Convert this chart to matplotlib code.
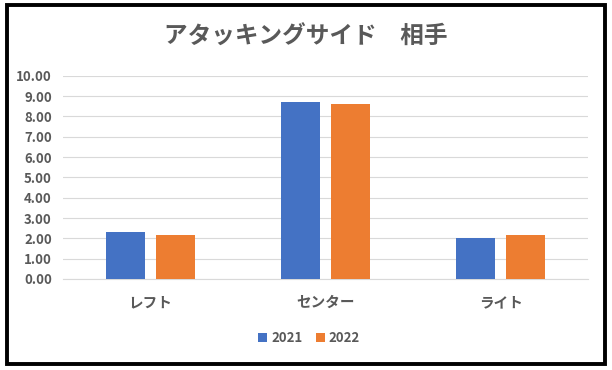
import matplotlib
matplotlib.use("Agg")
import matplotlib.pyplot as plt
import numpy as np
from matplotlib.patches import Rectangle

plt.rcParams['font.family'] = ['Noto Sans CJK JP', 'DejaVu Sans']

categories = ['レフト', 'センター', 'ライト']
years = ['2021', '2022']
values_2021 = [2.32, 8.72, 2.02]
values_2022 = [2.17, 8.62, 2.17]
colors = ['#4472C4', '#ED7D31']
text_color = '#595959'

fig = plt.figure(figsize=(6.12, 3.70), dpi=100)
ax = fig.add_axes([0.103, 0.246, 0.858, 0.549])

x = np.arange(len(categories))
w = 0.223
ax.bar(x - 0.143, values_2021, width=w, color=colors[0], label=years[0], zorder=3)
ax.bar(x + 0.143, values_2022, width=w, color=colors[1], label=years[1], zorder=3)

ax.set_xlim(-0.5, len(categories) - 0.5)
ax.set_ylim(0, 10)
ax.set_yticks(np.arange(0, 10.01, 1))
ax.set_yticklabels([f'{v:.2f}' for v in np.arange(0, 10.01, 1)])
ax.set_xticks(x)
ax.set_xticklabels(categories)
ax.grid(axis='y', color='#D9D9D9', linewidth=0.8, zorder=0)
for s in ax.spines.values():
    s.set_visible(False)
ax.spines['bottom'].set_visible(True)
ax.spines['bottom'].set_color('#D9D9D9')
ax.tick_params(axis='both', length=0, colors=text_color)
ax.tick_params(axis='y', pad=8, labelsize=9.5)
ax.tick_params(axis='x', pad=11, labelsize=10.5)
for lab in ax.get_xticklabels() + ax.get_yticklabels():
    lab.set_fontweight('bold')

fig.text(0.5, 0.9, 'アタッキングサイド　相手', ha='center', va='center',
         fontsize=17, fontweight='bold', color=text_color)

leg = fig.legend(loc='center', bbox_to_anchor=(0.505, 0.087), ncol=2, frameon=False,
                 handlelength=0.7, handleheight=0.7, handletextpad=0.3,
                 columnspacing=1.0, prop={'size': 9.5, 'weight': 'bold'})
for t in leg.get_texts():
    t.set_color(text_color)

fig.patches.append(Rectangle((0.011, 0.016), 0.978, 0.97, transform=fig.transFigure,
                             fill=False, edgecolor='black', linewidth=2.8))

fig.savefig('out.png', dpi=100)
